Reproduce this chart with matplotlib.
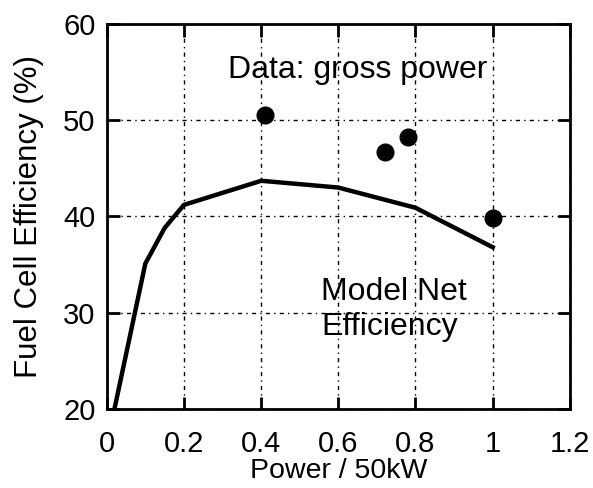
import numpy as np
import matplotlib.pyplot as plt

plt.rcParams['font.family'] = ['Liberation Sans', 'DejaVu Sans']

# model net efficiency curve
model_x = [0.02, 0.10, 0.15, 0.20, 0.40, 0.43, 0.60, 0.80, 1.00]
model_y = [20.0, 35.1, 38.8, 41.2, 43.7, 43.6, 43.0, 40.9, 36.8]

# measured data (gross power)
data_x = [0.41, 0.72, 0.78, 1.00]
data_y = [50.5, 46.7, 48.2, 39.8]

xticks = [0, 0.2, 0.4, 0.6, 0.8, 1, 1.2]
xticklabels = ['0', '0.2', '0.4', '0.6', '0.8', '1', '1.2']
yticks = [20, 30, 40, 50, 60]

fig = plt.figure(figsize=(5.93, 4.88), dpi=100)
ax = fig.add_axes([0.180, 0.162, 0.781, 0.789])

ax.plot(model_x, model_y, color='black', lw=3.2, solid_joinstyle='miter')
ax.plot(data_x, data_y, 'o', color='black', ms=12)

ax.set_xlim(0, 1.2)
ax.set_ylim(20, 60)
ax.set_xticks(xticks)
ax.set_xticklabels(xticklabels)
ax.set_yticks(yticks)

ax.grid(True, color='black', linestyle=(0, (1, 3, 3, 3)), lw=1)
ax.tick_params(direction='in', length=9, width=2, top=True, right=True,
               labelsize=21)
ax.tick_params(axis='x', pad=15)
ax.tick_params(axis='y', pad=8)
for s in ax.spines.values():
    s.set_linewidth(2)

ax.set_xlabel('Power / 50kW', fontsize=20.5, labelpad=0)
ax.set_ylabel('Fuel Cell Efficiency (%)', fontsize=22.5, labelpad=14)

ax.text(0.65, 55.2, 'Data: gross power', fontsize=23, ha='center', va='center')
ax.text(0.555, 30.3, 'Model Net\nEfficiency', fontsize=23, ha='left', va='center',
        linespacing=1.2)

fig.savefig('out.png', dpi=100)
